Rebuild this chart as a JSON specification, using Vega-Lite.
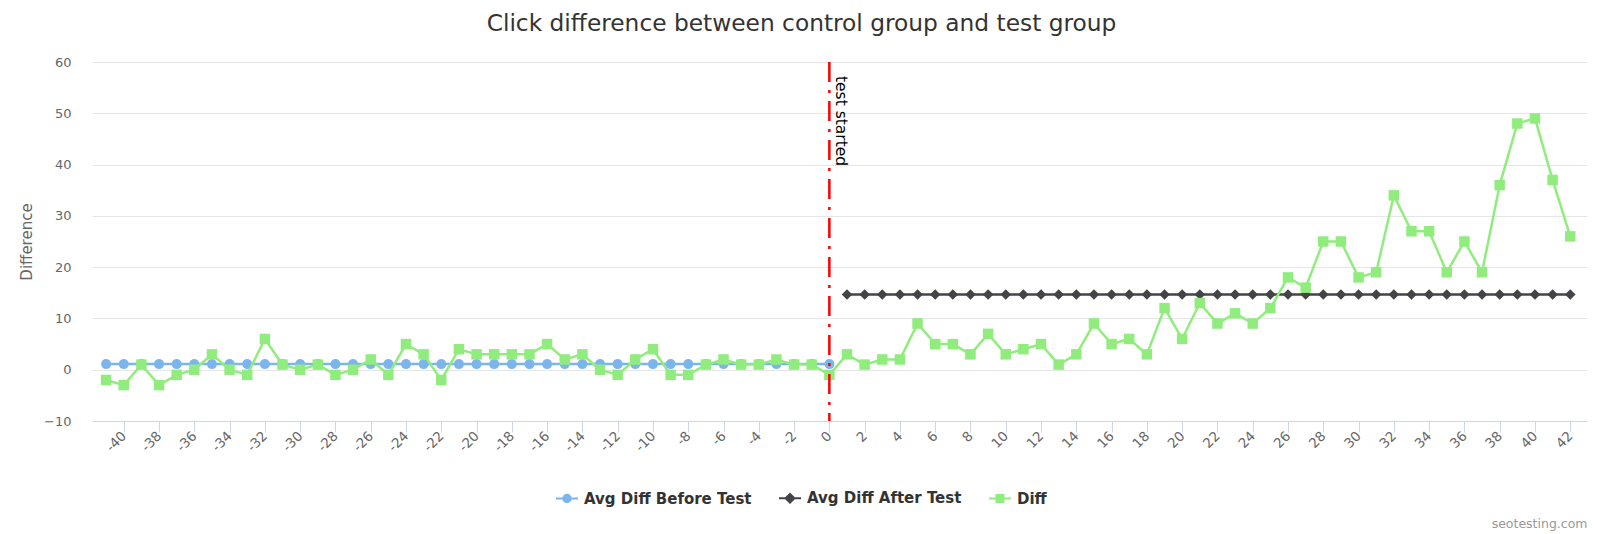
{
 "$schema": "https://vega.github.io/schema/vega-lite/v6.json",
 "width": 1495,
 "height": 359,
 "autosize": "none",
 "padding": {"left": 92, "top": 62, "right": 13, "bottom": 113},
 "config": {"view": {"stroke": null}, "font": "DejaVu Sans",
   "axis": {"labelOverlap": false},
   "axisX": {"labelOverlap": false, "labelAngle": -45, "labelAlign": "right", "labelBaseline": "middle", "labelFontSize": 13.5, "labelColor": "#666666", "labelPadding": 1.5, "labelFlush": false, "tickCount": 42, "domainColor": "#ccd6eb", "tickColor": "#ccd6eb", "tickSize": 11, "grid": false}},
 "title": {"text": "Click difference between control group and test group", "fontSize": 23.3, "font": "DejaVu Sans", "fontWeight": "normal", "color": "#333333", "anchor": "middle", "frame": "group", "dx": -38, "offset": 2, "baseline": "alphabetic"},
 "data": {"values": [
  {"day": -41, "series": "Avg Diff Before Test", "value": 1.095},
  {"day": -40, "series": "Avg Diff Before Test", "value": 1.095},
  {"day": -39, "series": "Avg Diff Before Test", "value": 1.095},
  {"day": -38, "series": "Avg Diff Before Test", "value": 1.095},
  {"day": -37, "series": "Avg Diff Before Test", "value": 1.095},
  {"day": -36, "series": "Avg Diff Before Test", "value": 1.095},
  {"day": -35, "series": "Avg Diff Before Test", "value": 1.095},
  {"day": -34, "series": "Avg Diff Before Test", "value": 1.095},
  {"day": -33, "series": "Avg Diff Before Test", "value": 1.095},
  {"day": -32, "series": "Avg Diff Before Test", "value": 1.095},
  {"day": -31, "series": "Avg Diff Before Test", "value": 1.095},
  {"day": -30, "series": "Avg Diff Before Test", "value": 1.095},
  {"day": -29, "series": "Avg Diff Before Test", "value": 1.095},
  {"day": -28, "series": "Avg Diff Before Test", "value": 1.095},
  {"day": -27, "series": "Avg Diff Before Test", "value": 1.095},
  {"day": -26, "series": "Avg Diff Before Test", "value": 1.095},
  {"day": -25, "series": "Avg Diff Before Test", "value": 1.095},
  {"day": -24, "series": "Avg Diff Before Test", "value": 1.095},
  {"day": -23, "series": "Avg Diff Before Test", "value": 1.095},
  {"day": -22, "series": "Avg Diff Before Test", "value": 1.095},
  {"day": -21, "series": "Avg Diff Before Test", "value": 1.095},
  {"day": -20, "series": "Avg Diff Before Test", "value": 1.095},
  {"day": -19, "series": "Avg Diff Before Test", "value": 1.095},
  {"day": -18, "series": "Avg Diff Before Test", "value": 1.095},
  {"day": -17, "series": "Avg Diff Before Test", "value": 1.095},
  {"day": -16, "series": "Avg Diff Before Test", "value": 1.095},
  {"day": -15, "series": "Avg Diff Before Test", "value": 1.095},
  {"day": -14, "series": "Avg Diff Before Test", "value": 1.095},
  {"day": -13, "series": "Avg Diff Before Test", "value": 1.095},
  {"day": -12, "series": "Avg Diff Before Test", "value": 1.095},
  {"day": -11, "series": "Avg Diff Before Test", "value": 1.095},
  {"day": -10, "series": "Avg Diff Before Test", "value": 1.095},
  {"day": -9, "series": "Avg Diff Before Test", "value": 1.095},
  {"day": -8, "series": "Avg Diff Before Test", "value": 1.095},
  {"day": -7, "series": "Avg Diff Before Test", "value": 1.095},
  {"day": -6, "series": "Avg Diff Before Test", "value": 1.095},
  {"day": -5, "series": "Avg Diff Before Test", "value": 1.095},
  {"day": -4, "series": "Avg Diff Before Test", "value": 1.095},
  {"day": -3, "series": "Avg Diff Before Test", "value": 1.095},
  {"day": -2, "series": "Avg Diff Before Test", "value": 1.095},
  {"day": -1, "series": "Avg Diff Before Test", "value": 1.095},
  {"day": 0, "series": "Avg Diff Before Test", "value": 1.095},
  {"day": 1, "series": "Avg Diff After Test", "value": 14.667},
  {"day": 2, "series": "Avg Diff After Test", "value": 14.667},
  {"day": 3, "series": "Avg Diff After Test", "value": 14.667},
  {"day": 4, "series": "Avg Diff After Test", "value": 14.667},
  {"day": 5, "series": "Avg Diff After Test", "value": 14.667},
  {"day": 6, "series": "Avg Diff After Test", "value": 14.667},
  {"day": 7, "series": "Avg Diff After Test", "value": 14.667},
  {"day": 8, "series": "Avg Diff After Test", "value": 14.667},
  {"day": 9, "series": "Avg Diff After Test", "value": 14.667},
  {"day": 10, "series": "Avg Diff After Test", "value": 14.667},
  {"day": 11, "series": "Avg Diff After Test", "value": 14.667},
  {"day": 12, "series": "Avg Diff After Test", "value": 14.667},
  {"day": 13, "series": "Avg Diff After Test", "value": 14.667},
  {"day": 14, "series": "Avg Diff After Test", "value": 14.667},
  {"day": 15, "series": "Avg Diff After Test", "value": 14.667},
  {"day": 16, "series": "Avg Diff After Test", "value": 14.667},
  {"day": 17, "series": "Avg Diff After Test", "value": 14.667},
  {"day": 18, "series": "Avg Diff After Test", "value": 14.667},
  {"day": 19, "series": "Avg Diff After Test", "value": 14.667},
  {"day": 20, "series": "Avg Diff After Test", "value": 14.667},
  {"day": 21, "series": "Avg Diff After Test", "value": 14.667},
  {"day": 22, "series": "Avg Diff After Test", "value": 14.667},
  {"day": 23, "series": "Avg Diff After Test", "value": 14.667},
  {"day": 24, "series": "Avg Diff After Test", "value": 14.667},
  {"day": 25, "series": "Avg Diff After Test", "value": 14.667},
  {"day": 26, "series": "Avg Diff After Test", "value": 14.667},
  {"day": 27, "series": "Avg Diff After Test", "value": 14.667},
  {"day": 28, "series": "Avg Diff After Test", "value": 14.667},
  {"day": 29, "series": "Avg Diff After Test", "value": 14.667},
  {"day": 30, "series": "Avg Diff After Test", "value": 14.667},
  {"day": 31, "series": "Avg Diff After Test", "value": 14.667},
  {"day": 32, "series": "Avg Diff After Test", "value": 14.667},
  {"day": 33, "series": "Avg Diff After Test", "value": 14.667},
  {"day": 34, "series": "Avg Diff After Test", "value": 14.667},
  {"day": 35, "series": "Avg Diff After Test", "value": 14.667},
  {"day": 36, "series": "Avg Diff After Test", "value": 14.667},
  {"day": 37, "series": "Avg Diff After Test", "value": 14.667},
  {"day": 38, "series": "Avg Diff After Test", "value": 14.667},
  {"day": 39, "series": "Avg Diff After Test", "value": 14.667},
  {"day": 40, "series": "Avg Diff After Test", "value": 14.667},
  {"day": 41, "series": "Avg Diff After Test", "value": 14.667},
  {"day": 42, "series": "Avg Diff After Test", "value": 14.667},
  {"day": -41, "series": "Diff", "value": -2},
  {"day": -40, "series": "Diff", "value": -3},
  {"day": -39, "series": "Diff", "value": 1},
  {"day": -38, "series": "Diff", "value": -3},
  {"day": -37, "series": "Diff", "value": -1},
  {"day": -36, "series": "Diff", "value": 0},
  {"day": -35, "series": "Diff", "value": 3},
  {"day": -34, "series": "Diff", "value": 0},
  {"day": -33, "series": "Diff", "value": -1},
  {"day": -32, "series": "Diff", "value": 6},
  {"day": -31, "series": "Diff", "value": 1},
  {"day": -30, "series": "Diff", "value": 0},
  {"day": -29, "series": "Diff", "value": 1},
  {"day": -28, "series": "Diff", "value": -1},
  {"day": -27, "series": "Diff", "value": 0},
  {"day": -26, "series": "Diff", "value": 2},
  {"day": -25, "series": "Diff", "value": -1},
  {"day": -24, "series": "Diff", "value": 5},
  {"day": -23, "series": "Diff", "value": 3},
  {"day": -22, "series": "Diff", "value": -2},
  {"day": -21, "series": "Diff", "value": 4},
  {"day": -20, "series": "Diff", "value": 3},
  {"day": -19, "series": "Diff", "value": 3},
  {"day": -18, "series": "Diff", "value": 3},
  {"day": -17, "series": "Diff", "value": 3},
  {"day": -16, "series": "Diff", "value": 5},
  {"day": -15, "series": "Diff", "value": 2},
  {"day": -14, "series": "Diff", "value": 3},
  {"day": -13, "series": "Diff", "value": 0},
  {"day": -12, "series": "Diff", "value": -1},
  {"day": -11, "series": "Diff", "value": 2},
  {"day": -10, "series": "Diff", "value": 4},
  {"day": -9, "series": "Diff", "value": -1},
  {"day": -8, "series": "Diff", "value": -1},
  {"day": -7, "series": "Diff", "value": 1},
  {"day": -6, "series": "Diff", "value": 2},
  {"day": -5, "series": "Diff", "value": 1},
  {"day": -4, "series": "Diff", "value": 1},
  {"day": -3, "series": "Diff", "value": 2},
  {"day": -2, "series": "Diff", "value": 1},
  {"day": -1, "series": "Diff", "value": 1},
  {"day": 0, "series": "Diff", "value": -1},
  {"day": 1, "series": "Diff", "value": 3},
  {"day": 2, "series": "Diff", "value": 1},
  {"day": 3, "series": "Diff", "value": 2},
  {"day": 4, "series": "Diff", "value": 2},
  {"day": 5, "series": "Diff", "value": 9},
  {"day": 6, "series": "Diff", "value": 5},
  {"day": 7, "series": "Diff", "value": 5},
  {"day": 8, "series": "Diff", "value": 3},
  {"day": 9, "series": "Diff", "value": 7},
  {"day": 10, "series": "Diff", "value": 3},
  {"day": 11, "series": "Diff", "value": 4},
  {"day": 12, "series": "Diff", "value": 5},
  {"day": 13, "series": "Diff", "value": 1},
  {"day": 14, "series": "Diff", "value": 3},
  {"day": 15, "series": "Diff", "value": 9},
  {"day": 16, "series": "Diff", "value": 5},
  {"day": 17, "series": "Diff", "value": 6},
  {"day": 18, "series": "Diff", "value": 3},
  {"day": 19, "series": "Diff", "value": 12},
  {"day": 20, "series": "Diff", "value": 6},
  {"day": 21, "series": "Diff", "value": 13},
  {"day": 22, "series": "Diff", "value": 9},
  {"day": 23, "series": "Diff", "value": 11},
  {"day": 24, "series": "Diff", "value": 9},
  {"day": 25, "series": "Diff", "value": 12},
  {"day": 26, "series": "Diff", "value": 18},
  {"day": 27, "series": "Diff", "value": 16},
  {"day": 28, "series": "Diff", "value": 25},
  {"day": 29, "series": "Diff", "value": 25},
  {"day": 30, "series": "Diff", "value": 18},
  {"day": 31, "series": "Diff", "value": 19},
  {"day": 32, "series": "Diff", "value": 34},
  {"day": 33, "series": "Diff", "value": 27},
  {"day": 34, "series": "Diff", "value": 27},
  {"day": 35, "series": "Diff", "value": 19},
  {"day": 36, "series": "Diff", "value": 25},
  {"day": 37, "series": "Diff", "value": 19},
  {"day": 38, "series": "Diff", "value": 36},
  {"day": 39, "series": "Diff", "value": 48},
  {"day": 40, "series": "Diff", "value": 49},
  {"day": 41, "series": "Diff", "value": 37},
  {"day": 42, "series": "Diff", "value": 26}
 ]},
 "layer": [
  {
   "transform": [{"filter": "datum.series === 'Avg Diff Before Test'"}],
   "mark": {"type": "line", "strokeWidth": 2.5, "point": {"shape": "circle", "size": 100, "filled": true}},
   "encoding": {
    "x": {"field": "day", "type": "quantitative",
      "scale": {"domain": [-41.8, 42.95], "nice": false, "zero": false},
      "axis": {"title": "seotesting.com", "values": [-40,-38,-36,-34,-32,-30,-28,-26,-24,-22,-20,-18,-16,-14,-12,-10,-8,-6,-4,-2,0,2,4,6,8,10,12,14,16,18,20,22,24,26,28,30,32,34,36,38,40,42],
        "labelExpr": "datum.value < 0 ? '-' + abs(datum.value) : '' + datum.value",
        "labelOverlap": false,
        "titleFontSize": 12.5, "titleColor": "#999999", "titleFontWeight": "normal", "titleX": 1495, "titleY": 106, "titleAlign": "right", "titleBaseline": "alphabetic"}},
    "y": {"field": "value", "type": "quantitative",
      "scale": {"domain": [-10, 60], "nice": false, "zero": false},
      "axis": {"title": "Difference", "values": [-10,0,10,20,30,40,50,60], "grid": true, "gridColor": "#e6e6e6", "domain": false, "ticks": false, "tickSize": 0, "labelPadding": 21, "labelFontSize": 13, "labelColor": "#666666",
        "titleFontSize": 15, "titleColor": "#666666", "titleFontWeight": "normal", "titleX": -66, "titleY": 179.5, "titleAngle": 270, "titleAlign": "center", "titleBaseline": "middle"}},
    "color": {"field": "series", "type": "nominal",
      "scale": {"domain": ["Avg Diff Before Test", "Avg Diff After Test", "Diff"], "range": ["#7cb5ec", "#434348", "#90ed7d"]},
      "legend": {"title": null, "orient": "none", "direction": "horizontal", "legendX": 463, "legendY": 424, "symbolSize": 484, "labelFontSize": 15, "labelFontWeight": "bold", "labelColor": "#333333", "labelLimit": 400, "columnPadding": 23, "labelOffset": 5, "padding": 0,
        "encode": {"symbols": {"update": {
          "shape": {"signal": "datum.value === 'Diff' ? 'M-1,0H1M-0.32,-0.32H0.32V0.32H-0.32Z' : datum.value === 'Avg Diff After Test' ? 'M-1,0H1M0,-0.4L0.4,0L0,0.4L-0.4,0Z' : 'M-1,0H1M0.34,0A0.34,0.34,0,1,1,-0.34,0A0.34,0.34,0,1,1,0.34,0Z'"},
          "fill": {"signal": "datum.value === 'Diff' ? '#90ed7d' : datum.value === 'Avg Diff After Test' ? '#434348' : '#7cb5ec'"},
          "stroke": {"signal": "datum.value === 'Diff' ? '#90ed7d' : datum.value === 'Avg Diff After Test' ? '#434348' : '#7cb5ec'"},
          "strokeWidth": {"value": 2},
          "opacity": {"value": 1}
        }}}}}
   }
  },
  {
   "transform": [{"filter": "datum.series === 'Avg Diff After Test'"}],
   "mark": {"type": "line", "strokeWidth": 2.5, "point": {"shape": "diamond", "size": 110, "filled": true}},
   "encoding": {
    "x": {"field": "day", "type": "quantitative"},
    "y": {"field": "value", "type": "quantitative"},
    "color": {"field": "series", "type": "nominal"}
   }
  },
  {
   "transform": [{"filter": "datum.series === 'Diff'"}],
   "mark": {"type": "line", "strokeWidth": 2.5, "point": {"shape": "square", "size": 110, "filled": true}},
   "encoding": {
    "x": {"field": "day", "type": "quantitative"},
    "y": {"field": "value", "type": "quantitative"},
    "color": {"field": "series", "type": "nominal"}
   }
  },
  {
   "data": {"values": [{"day": 0}]},
   "mark": {"type": "rule", "color": "#ff0000", "strokeWidth": 2.5, "strokeDash": [20, 8, 3, 8]},
   "encoding": {
    "x": {"field": "day", "type": "quantitative"}
   }
  },
  {
   "data": {"values": [{"day": 0, "value": 60, "label": "test started"}]},
   "mark": {"type": "text", "angle": 90, "align": "left", "baseline": "bottom", "dx": 14, "dy": -4, "fontSize": 15.5, "color": "#000000", "font": "DejaVu Sans"},
   "encoding": {
    "x": {"field": "day", "type": "quantitative"},
    "y": {"field": "value", "type": "quantitative"},
    "text": {"field": "label"}
   }
  }
 ]
}
